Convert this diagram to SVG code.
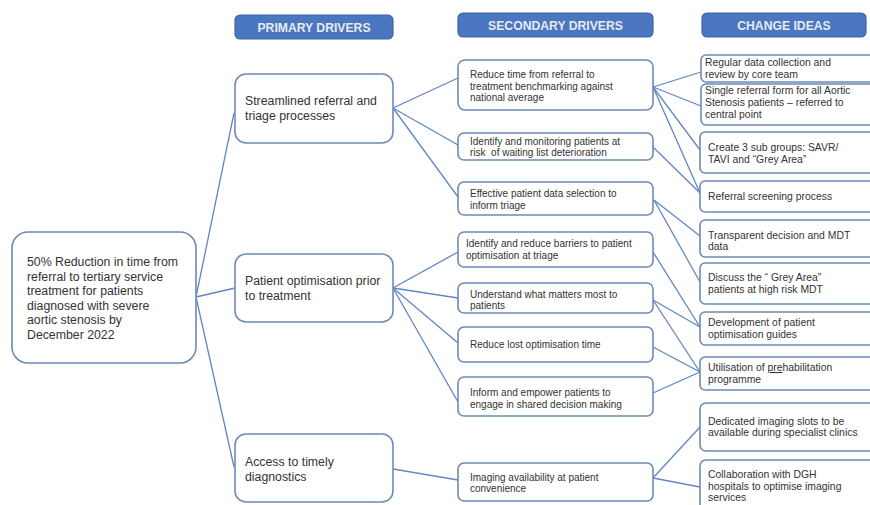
<svg xmlns="http://www.w3.org/2000/svg" width="870" height="505" viewBox="0 0 870 505">
<style>
  .bg{fill:#ffffff}
  .hdr rect{fill:#4a77bf;stroke:#3c66a8;stroke-width:1.2}
  .hdr text{font-family:"Liberation Sans",Arial,sans-serif;font-size:12.2px;font-weight:bold;fill:#e6ebf3;text-anchor:middle}
  .box rect{fill:#ffffff;stroke:#6e8ab5;stroke-width:1.6}
  .box text{font-family:"Liberation Sans",Arial,sans-serif;fill:#333333}
  .big text{font-size:12.3px}
  .sm text{font-size:10px}
  .ch text{font-size:10.4px}
  #connectors line{stroke:#6286c4;stroke-width:1.3}
</style>
<rect class="bg" x="0" y="0" width="870" height="505"/>

<g id="connectors">
  <line x1="196" y1="297" x2="234" y2="113"/>
  <line x1="196" y1="297" x2="235" y2="288"/>
  <line x1="196" y1="297" x2="234" y2="467"/>
  <line x1="393" y1="108" x2="458" y2="78"/>
  <line x1="393" y1="108" x2="458" y2="145"/>
  <line x1="393" y1="108" x2="458" y2="197"/>
  <line x1="393" y1="288" x2="458" y2="252"/>
  <line x1="393" y1="288" x2="458" y2="298"/>
  <line x1="393" y1="288" x2="458" y2="343"/>
  <line x1="393" y1="288" x2="458" y2="402"/>
  <line x1="393" y1="469" x2="458" y2="480"/>
  <line x1="653" y1="87" x2="701" y2="72"/>
  <line x1="653" y1="87" x2="701" y2="106"/>
  <line x1="653" y1="87" x2="700" y2="150"/>
  <line x1="653" y1="87" x2="700" y2="193"/>
  <line x1="653" y1="147" x2="700" y2="193"/>
  <line x1="654" y1="200" x2="700" y2="236"/>
  <line x1="654" y1="200" x2="700" y2="282"/>
  <line x1="653" y1="252" x2="700" y2="327"/>
  <line x1="653" y1="300" x2="700" y2="327"/>
  <line x1="653" y1="300" x2="700" y2="372"/>
  <line x1="653" y1="347" x2="700" y2="372"/>
  <line x1="653" y1="393" x2="700" y2="372"/>
  <line x1="653" y1="478" x2="700" y2="427"/>
  <line x1="653" y1="478" x2="700" y2="487"/>
</g>

<g id="hdr-primary" class="hdr">
  <rect x="235" y="15" width="158" height="24" rx="5"/>
  <text x="314" y="31.5">PRIMARY DRIVERS</text>
</g>
<g id="hdr-secondary" class="hdr">
  <rect x="458" y="13" width="195" height="24" rx="5"/>
  <text x="555.5" y="29.5">SECONDARY DRIVERS</text>
</g>
<g id="hdr-change" class="hdr">
  <rect x="702" y="13" width="164" height="24" rx="5"/>
  <text x="784" y="29.5">CHANGE IDEAS</text>
</g>

<g id="goal" class="box big">
  <rect x="12" y="232" width="184" height="131" rx="16"/>
  <text x="27" y="266">50% Reduction in time from</text>
  <text x="27" y="280.5">referral to tertiary service</text>
  <text x="27" y="295">treatment for patients</text>
  <text x="27" y="309.5">diagnosed with severe</text>
  <text x="27" y="324">aortic stenosis by</text>
  <text x="27" y="338.5">December 2022</text>
</g>

<g id="p1" class="box big">
  <rect x="235" y="74" width="158" height="69" rx="11"/>
  <text x="245" y="105">Streamlined referral and</text>
  <text x="245" y="120">triage processes</text>
</g>
<g id="p2" class="box big">
  <rect x="235" y="254" width="158" height="68" rx="11"/>
  <text x="245" y="285">Patient optimisation prior</text>
  <text x="245" y="299.5">to treatment</text>
</g>
<g id="p3" class="box big">
  <rect x="235" y="434" width="158" height="68" rx="11"/>
  <text x="245" y="466">Access to timely</text>
  <text x="245" y="480.5">diagnostics</text>
</g>

<g id="s1" class="box sm">
  <rect x="458" y="60" width="195" height="50" rx="7"/>
  <text x="470" y="78">Reduce time from referral to</text>
  <text x="470" y="89.5">treatment benchmarking against</text>
  <text x="470" y="101">national average</text>
</g>
<g id="s2" class="box sm">
  <rect x="458" y="133" width="195" height="27" rx="6"/>
  <text x="470" y="145">Identify and monitoring patients at</text>
  <text x="470" y="156" xml:space="preserve">risk  of waiting list deterioration</text>
</g>
<g id="s3" class="box sm">
  <rect x="458" y="182" width="195" height="33" rx="6"/>
  <text x="470" y="197">Effective patient data selection to</text>
  <text x="470" y="208.5">inform triage</text>
</g>
<g id="s4" class="box sm">
  <rect x="458" y="232" width="195" height="35" rx="6"/>
  <text x="466" y="247">Identify and reduce barriers to patient</text>
  <text x="466" y="258.5">optimisation at triage</text>
</g>
<g id="s5" class="box sm">
  <rect x="458" y="283" width="195" height="30" rx="6"/>
  <text x="470" y="298">Understand what matters most to</text>
  <text x="470" y="309">patients</text>
</g>
<g id="s6" class="box sm">
  <rect x="458" y="327" width="195" height="35" rx="6"/>
  <text x="470" y="348">Reduce lost optimisation time</text>
</g>
<g id="s7" class="box sm">
  <rect x="458" y="377" width="195" height="39" rx="6"/>
  <text x="470" y="396">Inform and empower patients to</text>
  <text x="470" y="407.5">engage in shared decision making</text>
</g>
<g id="s8" class="box sm">
  <rect x="458" y="463" width="195" height="38" rx="6"/>
  <text x="470" y="481">Imaging availability at patient</text>
  <text x="470" y="492">convenience</text>
</g>

<g id="c1" class="box ch">
  <rect x="701" y="55" width="180" height="27" rx="5"/>
  <text x="705" y="65.5">Regular data collection and</text>
  <text x="705" y="78">review by core team</text>
</g>
<g id="c2" class="box ch">
  <rect x="701" y="84" width="180" height="41" rx="5"/>
  <text x="705" y="93.5">Single referral form for all Aortic</text>
  <text x="705" y="105.5">Stenosis patients – referred to</text>
  <text x="705" y="117.5">central point</text>
</g>
<g id="c3" class="box ch">
  <rect x="700" y="132" width="180" height="41" rx="5"/>
  <text x="708" y="151">Create 3 sub groups: SAVR/</text>
  <text x="708" y="162.5">TAVI and “Grey Area”</text>
</g>
<g id="c4" class="box ch">
  <rect x="700" y="181" width="180" height="31" rx="5"/>
  <text x="708" y="199.5">Referral screening process</text>
</g>
<g id="c5" class="box ch">
  <rect x="700" y="220" width="180" height="37" rx="5"/>
  <text x="708" y="239">Transparent decision and MDT</text>
  <text x="708" y="250">data</text>
</g>
<g id="c6" class="box ch">
  <rect x="700" y="263" width="180" height="41" rx="5"/>
  <text x="708" y="281">Discuss the “ Grey Area”</text>
  <text x="708" y="292.5">patients at high risk MDT</text>
</g>
<g id="c7" class="box ch">
  <rect x="700" y="312" width="180" height="33" rx="5"/>
  <text x="708" y="326">Development of patient</text>
  <text x="708" y="337.5">optimisation guides</text>
</g>
<g id="c8" class="box ch">
  <rect x="700" y="357" width="180" height="33" rx="5"/>
  <text x="708" y="371">Utilisation of <tspan text-decoration="underline">pre</tspan>habilitation</text>
  <text x="708" y="382.5">programme</text>
</g>
<g id="c9" class="box ch">
  <rect x="700" y="403" width="180" height="48" rx="6"/>
  <text x="708" y="425">Dedicated imaging slots to be</text>
  <text x="708" y="436">available during specialist clinics</text>
</g>
<g id="c10" class="box ch">
  <rect x="700" y="460" width="180" height="55" rx="6"/>
  <text x="708" y="478">Collaboration with DGH</text>
  <text x="708" y="489.5">hospitals to optimise imaging</text>
  <text x="708" y="501">services</text>
</g>
</svg>
